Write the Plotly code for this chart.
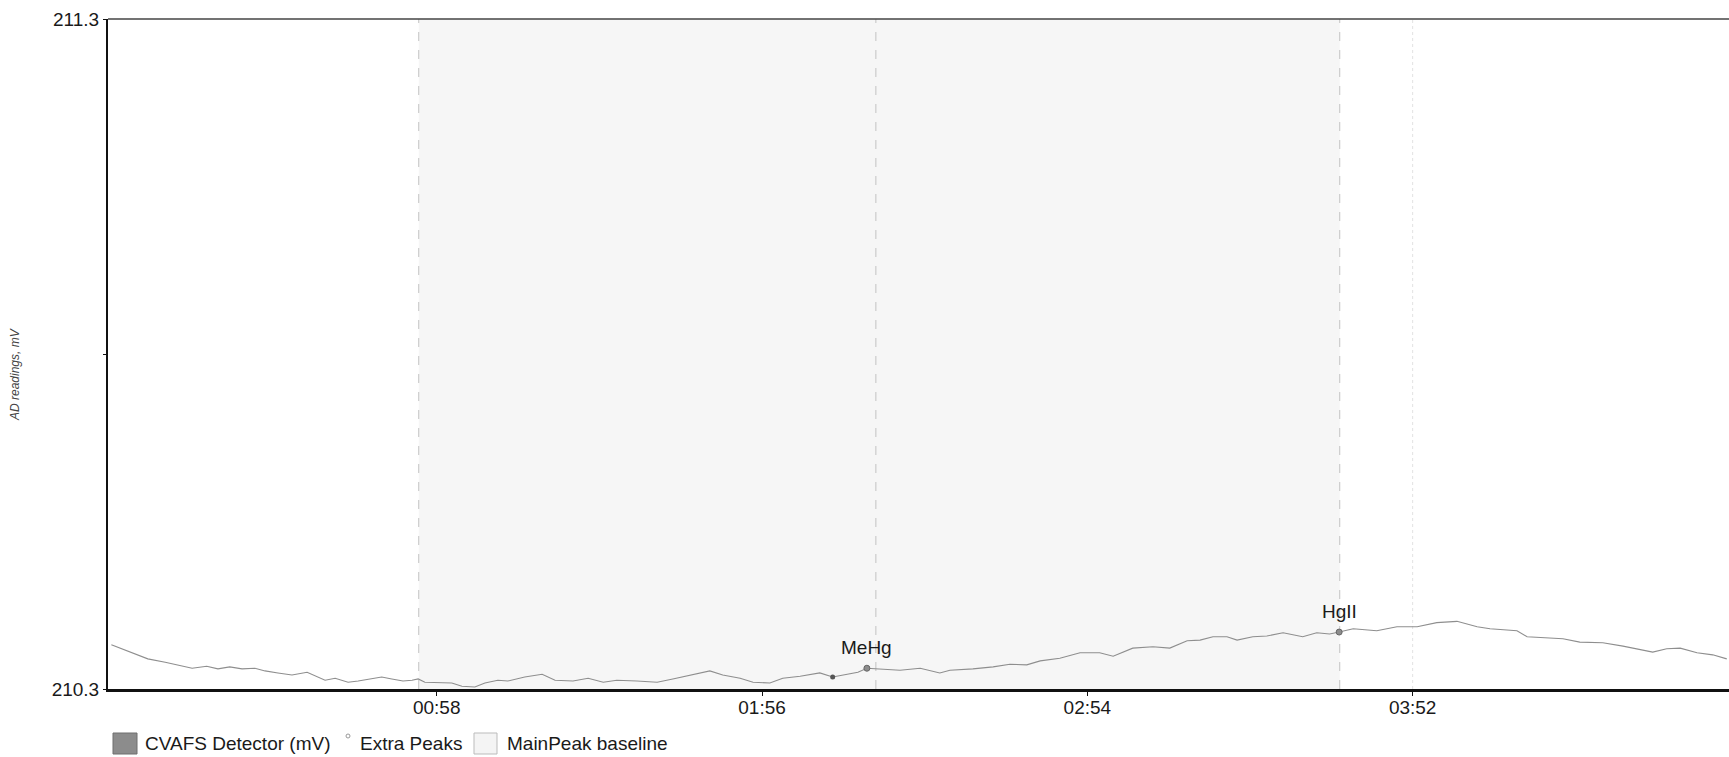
import plotly.graph_objects as go

# Detector trace: time (s) and CVAFS signal (mV)
time_s = [0.0, 3.7, 6.5, 9.6, 11.9, 14.4, 17.0, 19.0, 21.1, 23.3, 25.6, 27.4, 29.7, 32.2,
          34.9, 36.8, 38.1, 39.9, 42.2, 44.0, 46.5, 48.2, 50.0, 52.0, 53.6, 54.7, 55.9, 58.2,
          60.7, 62.5, 64.8, 66.6, 68.9, 70.7, 72.5, 73.7, 76.8, 79.1, 82.3, 85.0, 87.7, 90.1,
          93.7, 97.3, 100.1, 103.7, 106.7, 109.0, 112.1, 114.4, 117.4, 119.7, 122.8, 126.3,
          128.6, 131.2, 133.1, 134.7, 136.5, 140.6, 144.2, 147.7, 149.5, 153.6, 157.2, 160.2,
          163.2, 165.6, 169.1, 172.7, 176.2, 178.6, 182.1, 185.7, 188.7, 191.8, 194.1, 196.4,
          198.9, 200.7, 203.5, 206.0, 208.9, 212.4, 214.9, 217.2, 218.9, 221.4, 225.6, 229.2,
          232.8, 236.3, 239.9, 243.5, 245.8, 250.6, 252.4, 258.8, 261.8, 265.9, 269.5, 274.8,
          277.3, 279.7, 282.7, 285.5, 288.0]
signal_mv = [210.366, 210.354, 210.345, 210.340, 210.336, 210.331, 210.334, 210.330, 210.333,
             210.330, 210.331, 210.327, 210.324, 210.321, 210.325, 210.318, 210.313, 210.316,
             210.310, 210.312, 210.316, 210.318, 210.315, 210.312, 210.313, 210.315, 210.310,
             210.310, 210.309, 210.304, 210.303, 210.309, 210.313, 210.312, 210.316, 210.318,
             210.322, 210.313, 210.312, 210.316, 210.310, 210.313, 210.312, 210.310, 210.315,
             210.321, 210.327, 210.321, 210.316, 210.310, 210.309, 210.316, 210.319, 210.324,
             210.318, 210.322, 210.325, 210.331, 210.330, 210.328, 210.331, 210.324, 210.328,
             210.330, 210.333, 210.337, 210.336, 210.342, 210.346, 210.354, 210.354, 210.349,
             210.361, 210.363, 210.361, 210.372, 210.373, 210.378, 210.378, 210.373, 210.378,
             210.379, 210.384, 210.378, 210.384, 210.382, 210.385, 210.390, 210.387, 210.393,
             210.393, 210.399, 210.401, 210.393, 210.390, 210.387, 210.378, 210.375, 210.370,
             210.369, 210.364, 210.355, 210.360, 210.361, 210.354, 210.351, 210.345]

# Extra peak and named main peaks
extra_peak_t = [128.6]
extra_peak_v = [210.318]
peak_names = ["MeHg", "HgII"]
peak_t = [134.7, 218.9]
peak_v = [210.331, 210.385]

# Integration window edges (s) and an additional marker line
window_edges = [54.8, 136.3, 219.0]
extra_lines = [232.0]

# Axes
x_range = [-0.6, 288.4]
y_range = [210.3, 211.3]
x_tick_vals = [58, 116, 174, 232]
x_tick_text = ["00:58", "01:56", "02:54", "03:52"]
y_tick_vals = [210.3, 210.8, 211.3]
y_tick_text = ["210.3", "", "211.3"]

legend_labels = ["CVAFS Detector (mV)", "Extra Peaks", "MainPeak baseline"]

W, H = 1729, 757
ML, MR, MT, MB = 108, 0, 19, 68
PW, PH = W - ML - MR, H - MT - MB
FONT = "Arial, Liberation Sans, sans-serif"


def px(xp):
    return (xp - ML) / PW


def py(yp):
    return (H - MB - yp) / PH


fig = go.Figure()

fig.add_trace(go.Scatter(
    x=time_s, y=signal_mv, mode="lines",
    line=dict(color="#8e8e8e", width=1.1),
    showlegend=False, hoverinfo="x+y",
))
fig.add_trace(go.Scatter(
    x=extra_peak_t, y=extra_peak_v, mode="markers",
    marker=dict(color="#555555", size=5),
    showlegend=False,
))
fig.add_trace(go.Scatter(
    x=peak_t, y=peak_v, mode="markers",
    marker=dict(color="#8c8c8c", size=6, line=dict(color="#666666", width=1)),
    showlegend=False,
))

shapes = []
# shaded baseline window
shapes.append(dict(type="rect", xref="x", yref="paper", x0=window_edges[0], x1=window_edges[-1],
                   y0=0, y1=1, fillcolor="#f6f6f6", line=dict(width=0), layer="below"))
for xe in window_edges:
    shapes.append(dict(type="line", xref="x", yref="paper", x0=xe, x1=xe, y0=0, y1=1,
                       line=dict(color="#c2c2c2", width=1, dash="dash"), layer="below"))
for xe in extra_lines:
    shapes.append(dict(type="line", xref="x", yref="paper", x0=xe, x1=xe, y0=0, y1=1,
                       line=dict(color="#e2e2e2", width=1, dash="dot"), layer="below"))
# top border
shapes.append(dict(type="line", xref="paper", yref="paper", x0=0, x1=1, y0=1, y1=1,
                   line=dict(color="#444444", width=1.3)))

# legend swatches
shapes.append(dict(type="rect", xref="paper", yref="paper",
                   x0=px(113), x1=px(137), y0=py(754), y1=py(733),
                   fillcolor="#8c8c8c", line=dict(color="#6e6e6e", width=1)))
shapes.append(dict(type="circle", xref="paper", yref="paper",
                   x0=px(346), x1=px(350), y0=py(738), y1=py(734),
                   fillcolor="white", line=dict(color="#999999", width=1)))
shapes.append(dict(type="rect", xref="paper", yref="paper",
                   x0=px(474), x1=px(497), y0=py(754), y1=py(733),
                   fillcolor="#f4f4f4", line=dict(color="#bbbbbb", width=1)))

annotations = []
for name, t, v in zip(peak_names, peak_t, peak_v):
    annotations.append(dict(x=t, y=v, xref="x", yref="y", text=name, showarrow=False,
                            yshift=21, font=dict(family=FONT, size=19, color="#1a1a1a")))

legend_x = [143, 358, 505]
for lbl, lx in zip(legend_labels, legend_x):
    annotations.append(dict(x=px(lx), y=py(743), xref="paper", yref="paper", text=lbl,
                            showarrow=False, xanchor="left", yanchor="middle",
                            font=dict(family=FONT, size=19, color="#1a1a1a")))

annotations.append(dict(x=px(15), y=py(375), xref="paper", yref="paper",
                        text="<i>AD readings, mV</i>", textangle=-90, showarrow=False,
                        xanchor="center", yanchor="middle",
                        font=dict(family=FONT, size=12, color="#444444")))

fig.update_layout(
    width=W, height=H,
    margin=dict(l=ML, r=MR, t=MT, b=MB, pad=0),
    paper_bgcolor="white", plot_bgcolor="white",
    font=dict(family=FONT, size=19, color="#1a1a1a"),
    shapes=shapes, annotations=annotations,
    showlegend=False,
)
fig.update_xaxes(
    range=x_range, tickvals=x_tick_vals, ticktext=x_tick_text,
    showgrid=False, zeroline=False, showline=True, linecolor="#111111", linewidth=3,
    ticks="outside", ticklen=4, tickcolor="#111111", tickwidth=1,
    ticklabelstandoff=-5,
    tickfont=dict(family=FONT, size=19, color="#1a1a1a"),
)
fig.update_yaxes(
    range=y_range, tickvals=y_tick_vals, ticktext=y_tick_text,
    showgrid=False, zeroline=False, showline=True, linecolor="#111111", linewidth=2,
    ticks="outside", ticklen=3, tickcolor="#111111", tickwidth=1,
    tickfont=dict(family=FONT, size=19, color="#1a1a1a"),
)

fig.write_html("out.html")
